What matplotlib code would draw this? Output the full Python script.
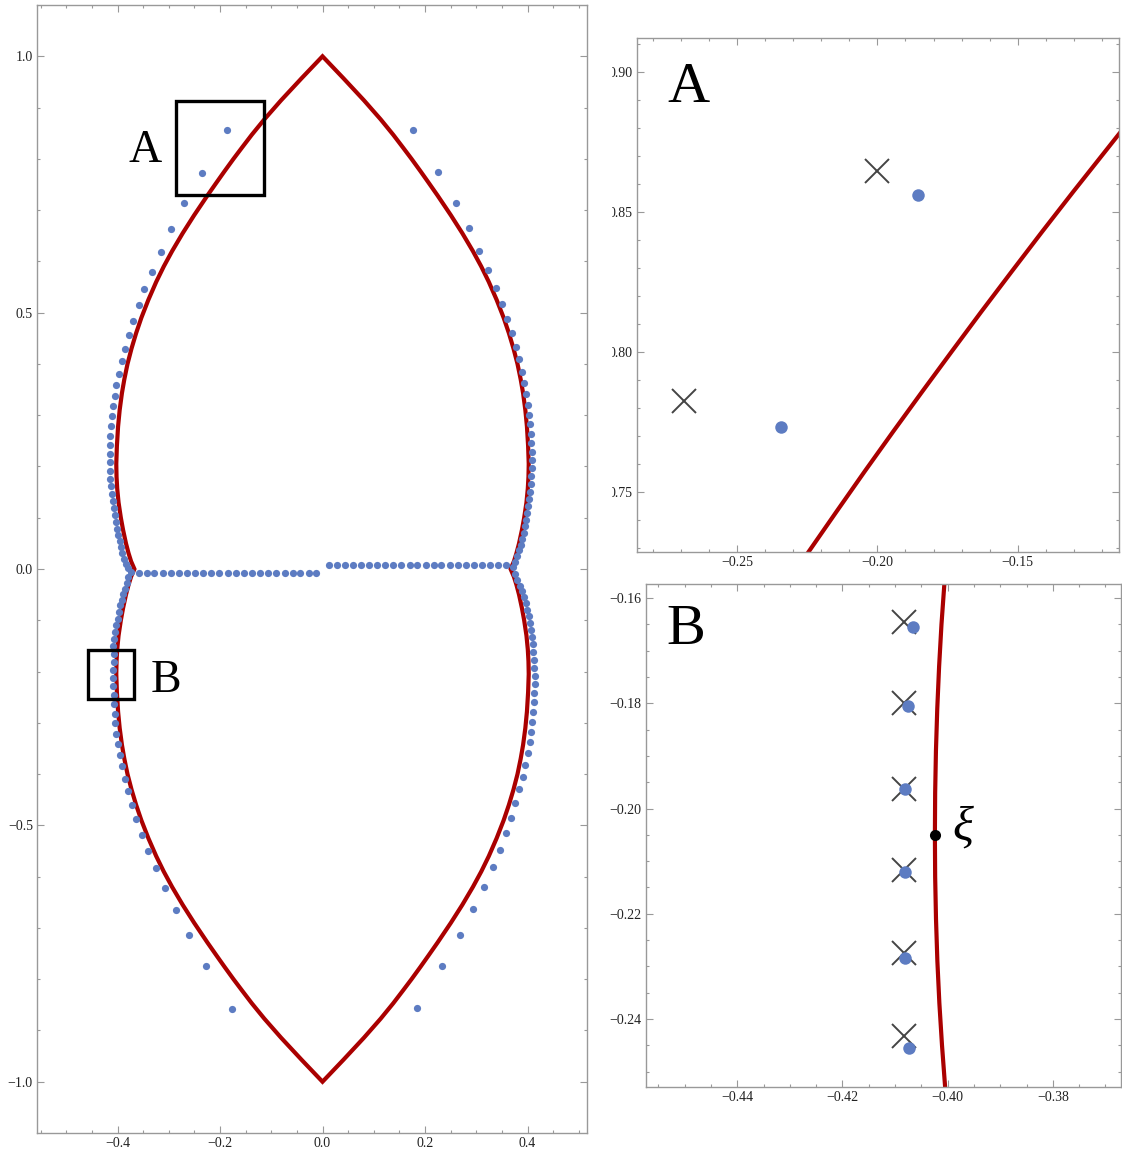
import matplotlib
matplotlib.use("Agg")
import numpy as np
import matplotlib.pyplot as plt
from matplotlib.patches import Rectangle, Polygon
from matplotlib.ticker import FixedLocator, MultipleLocator

plt.rcParams["font.family"] = ["Liberation Serif", "DejaVu Serif"]

# ---------------------------------------------------------------- data
# limiting curve, one quarter (|x|, y) from the top cusp down to the junction
prof_x = [0.000, 0.041, 0.081, 0.1135, 0.138, 0.1571, 0.1737, 0.1914, 0.2067,
          0.2245, 0.2505, 0.2728, 0.2935, 0.3098, 0.3245, 0.3398, 0.3535,
          0.3637, 0.3727, 0.3805, 0.3867, 0.3914, 0.3958, 0.3989, 0.4012,
          0.4024, 0.4019, 0.4006, 0.3980, 0.3935, 0.3892, 0.3835, 0.3785,
          0.3735, 0.3670]
prof_y = [1.000, 0.957, 0.914, 0.877, 0.847, 0.822, 0.800, 0.7756, 0.754,
          0.7286, 0.690, 0.655, 0.620, 0.590, 0.560, 0.525, 0.490, 0.460,
          0.430, 0.400, 0.370, 0.343, 0.310, 0.278, 0.240, 0.205, 0.180,
          0.157, 0.130, 0.100, 0.0765, 0.050, 0.031, 0.015, 0.000]

# zeros: upper-left branch
ul_x = [-0.1856, -0.2344, -0.270, -0.296, -0.316, -0.333, -0.348, -0.359,
        -0.369, -0.378, -0.385, -0.391, -0.397, -0.402, -0.405, -0.408,
        -0.411, -0.413, -0.414, -0.415, -0.415, -0.415, -0.415, -0.414,
        -0.413, -0.411, -0.409, -0.407, -0.405, -0.403, -0.401, -0.399,
        -0.396, -0.394, -0.391, -0.387, -0.384, -0.380]
ul_y = [0.856, 0.7731, 0.713, 0.663, 0.619, 0.580, 0.547, 0.514, 0.484,
        0.456, 0.430, 0.405, 0.381, 0.359, 0.337, 0.317, 0.298, 0.278,
        0.260, 0.242, 0.225, 0.209, 0.192, 0.176, 0.161, 0.147, 0.133,
        0.119, 0.105, 0.092, 0.079, 0.067, 0.054, 0.043, 0.031, 0.020,
        0.010, 0.002]

# zeros: lower-left branch
ll_x = [-0.374, -0.379, -0.382, -0.386, -0.389, -0.392, -0.395, -0.398,
        -0.400, -0.403, -0.405, -0.407, -0.408, -0.4065, -0.4076, -0.4081,
        -0.4081, -0.4081, -0.4074, -0.407, -0.405, -0.404, -0.402, -0.399,
        -0.396, -0.391, -0.386, -0.380, -0.372, -0.363, -0.352, -0.340,
        -0.325, -0.308, -0.286, -0.261, -0.227, -0.177]
ll_y = [-0.005, -0.016, -0.028, -0.039, -0.049, -0.060, -0.071, -0.084,
        -0.097, -0.109, -0.123, -0.136, -0.150, -0.1655, -0.1805, -0.1963,
        -0.2121, -0.2284, -0.2455, -0.264, -0.283, -0.301, -0.321, -0.341,
        -0.362, -0.385, -0.409, -0.433, -0.460, -0.487, -0.518, -0.549,
        -0.584, -0.623, -0.665, -0.714, -0.775, -0.858]

# zeros: upper-right branch
ur_x = [0.176, 0.2248, 0.260, 0.2853, 0.306, 0.3235, 0.338, 0.350, 0.360,
        0.370, 0.377, 0.3834, 0.3887, 0.393, 0.397, 0.400, 0.403, 0.405,
        0.406, 0.4074, 0.408, 0.408, 0.408, 0.4074, 0.406, 0.405, 0.4035,
        0.4016, 0.3996, 0.3977, 0.395, 0.3926, 0.390, 0.3867, 0.3834, 0.380,
        0.376, 0.3723]
ur_y = [0.857, 0.775, 0.714, 0.665, 0.621, 0.584, 0.549, 0.517, 0.488,
        0.460, 0.434, 0.409, 0.385, 0.363, 0.3405, 0.320, 0.300, 0.282,
        0.264, 0.2457, 0.2287, 0.2125, 0.197, 0.181, 0.1657, 0.1506, 0.1364,
        0.1227, 0.109, 0.096, 0.0837, 0.0712, 0.0595, 0.0478, 0.0369,
        0.0258, 0.0146, 0.0049]

# zeros: lower-right branch
lr_x = [0.3756, 0.380, 0.385, 0.3887, 0.3926, 0.3965, 0.3996, 0.4023, 0.405,
        0.4068, 0.4088, 0.410, 0.4113, 0.4127, 0.4133, 0.414, 0.414, 0.4133,
        0.4127, 0.4113, 0.4094, 0.4068, 0.4043, 0.4004, 0.3957, 0.3906,
        0.384, 0.3762, 0.3678, 0.3575, 0.3458, 0.332, 0.3145, 0.2942,
        0.2683, 0.2338, 0.185]
lr_y = [-0.0094, -0.0211, -0.0322, -0.0431, -0.0548, -0.0665, -0.0796,
        -0.0919, -0.1050, -0.1186, -0.1323, -0.1465, -0.161, -0.1766,
        -0.1922, -0.2084, -0.2246, -0.2421, -0.2597, -0.278, -0.2976, -0.317,
        -0.3378, -0.3592, -0.382, -0.4055, -0.430, -0.4568, -0.4849, -0.5147,
        -0.5473, -0.581, -0.620, -0.6636, -0.7132, -0.7742, -0.8568]

# zeros on the two horizontal rows
row_left_x = [-0.359, -0.343, -0.328, -0.312, -0.296, -0.280, -0.264, -0.248,
              -0.233, -0.217, -0.201, -0.185, -0.169, -0.153, -0.138, -0.122,
              -0.106, -0.090, -0.074, -0.058, -0.043, -0.027, -0.012]
row_left_y = -0.008
row_right_x = [0.012, 0.028, 0.044, 0.059, 0.075, 0.091, 0.107, 0.122, 0.138,
               0.154, 0.170, 0.185, 0.201, 0.217, 0.232, 0.248, 0.264, 0.280,
               0.295, 0.311, 0.327, 0.343, 0.358]
row_right_y = 0.008

# window A
a_xlim = (-0.2858, -0.114)
a_ylim = (0.7286, 0.912)
a_curve_x = [-0.2294, -0.2245, -0.2146, -0.2046, -0.1944, -0.1841, -0.1736,
             -0.1630, -0.1522, -0.1413, -0.1302, -0.1147, -0.1076]
a_curve_y = [0.7215, 0.7286, 0.7429, 0.7572, 0.7715, 0.7857, 0.8000,
             0.8143, 0.8286, 0.8429, 0.8572, 0.8768, 0.8857]
a_dots_x = [-0.1856, -0.2344]
a_dots_y = [0.856, 0.7731]
a_cross_x = [-0.200, -0.269]
a_cross_y = [0.8645, 0.7824]

# window B
b_xlim = (-0.4574, -0.3671)
b_ylim = (-0.2530, -0.1573)
b_curve_x = [-0.40030, -0.40063, -0.40118, -0.40163, -0.40198, -0.40223,
             -0.40238, -0.40243, -0.40238, -0.40222, -0.40196, -0.40158,
             -0.40108, -0.40048, -0.40010]
b_curve_y = [-0.1520, -0.1573, -0.1650, -0.1730, -0.1810, -0.1890,
             -0.1970, -0.2050, -0.2130, -0.2210, -0.2290, -0.2370,
             -0.2450, -0.2530, -0.2580]
b_dots_x = [-0.4065, -0.4076, -0.4081, -0.4081, -0.4081, -0.4074]
b_dots_y = [-0.1655, -0.1805, -0.1963, -0.2121, -0.2284, -0.2455]
b_cross_x = [-0.4083, -0.4083, -0.4083, -0.4083, -0.4083, -0.4083]
b_cross_y = [-0.1645, -0.1799, -0.1963, -0.2117, -0.2275, -0.2433]
xi_x, xi_y = -0.40243, -0.20501

# tick marks and labels
main_xticks = [-0.4, -0.2, 0.0, 0.2, 0.4]
main_xlabels = ["\u22120.4", "\u22120.2", "0.0", "0.2", "0.4"]
main_yticks = [-1.0, -0.5, 0.0, 0.5, 1.0]
main_ylabels = ["\u22121.0", "\u22120.5", "0.0", "0.5", "1.0"]
a_xticks = [-0.25, -0.20, -0.15]
a_xlabels = ["\u22120.25", "\u22120.20", "\u22120.15"]
a_yticks = [0.75, 0.80, 0.85, 0.90]
a_ylabels = ["0.75", "0.80", "0.85", "0.90"]
b_xticks = [-0.44, -0.42, -0.40, -0.38]
b_xlabels = ["\u22120.44", "\u22120.42", "\u22120.40", "\u22120.38"]
b_yticks = [-0.24, -0.22, -0.20, -0.18, -0.16]
b_ylabels = ["\u22120.24", "\u22120.22", "\u22120.20", "\u22120.18", "\u22120.16"]

# ---------------------------------------------------------------- style
RED = "#aa0000"
BLUE = "#5d7cc2"
CROSS = "#444444"
FRAME = "#999999"
TXT = "#222222"

W, H = 1122, 1151
fig = plt.figure(figsize=(W / 100, H / 100), dpi=100)


def axes_px(x0, y0, x1, y1):
    return fig.add_axes([x0 / W, 1 - y1 / H, (x1 - x0) / W, (y1 - y0) / H])


def style(ax, xt, xl, yt, yl, xminor, yminor):
    ax.xaxis.set_major_locator(FixedLocator(xt))
    ax.set_xticklabels(xl)
    ax.yaxis.set_major_locator(FixedLocator(yt))
    ax.set_yticklabels(yl)
    ax.xaxis.set_minor_locator(MultipleLocator(xminor))
    ax.yaxis.set_minor_locator(MultipleLocator(yminor))
    ax.tick_params(which="both", direction="in", top=True, right=True,
                   color=FRAME, width=0.8, labelsize=10, labelcolor=TXT)
    ax.tick_params(which="major", length=5, pad=3)
    ax.tick_params(which="minor", length=2.5)
    for s in ax.spines.values():
        s.set_color(FRAME)
        s.set_linewidth(1.0)


# ---------------- main panel
ax = axes_px(37, 5.3, 587, 1132.7)
ax.set_xlim(-0.5571, 0.5161)
ax.set_ylim(-1.0994, 1.0995)

px = np.array(prof_x)
py = np.array(prof_y)
upper_x = np.concatenate([-px[::-1], px[1:]])
upper_y = np.concatenate([py[::-1], py[1:]])
lower_x = np.concatenate([px[::-1], -px[1:]])
lower_y = np.concatenate([-py[::-1], -py[1:]])
loop = np.column_stack([np.concatenate([upper_x, lower_x[1:-1]]),
                        np.concatenate([upper_y, lower_y[1:-1]])])
ax.add_patch(Polygon(loop, closed=True, fill=False, ec=RED, lw=3.0,
                     joinstyle="miter", zorder=2))

dot_kw = dict(ls="none", marker="o", ms=5.2, color=BLUE, mec="none", zorder=3)
for xs, ys in [(ul_x, ul_y), (ll_x, ll_y), (ur_x, ur_y), (lr_x, lr_y)]:
    ax.plot(xs, ys, **dot_kw)
ax.plot(row_left_x, [row_left_y] * len(row_left_x), **dot_kw)
ax.plot(row_right_x, [row_right_y] * len(row_right_x), **dot_kw)

for (x0, x1), (y0, y1) in [(a_xlim, a_ylim), (b_xlim, b_ylim)]:
    ax.add_patch(Rectangle((x0, y0), x1 - x0, y1 - y0, fill=False,
                           ec="black", lw=2.4, joinstyle="miter", zorder=4))
ax.text(-0.3463, 0.7945, "A", fontsize=33, ha="center", va="baseline")
ax.text(-0.3054, -0.239, "B", fontsize=33, ha="center", va="baseline")
style(ax, main_xticks, main_xlabels, main_yticks, main_ylabels, 0.05, 0.1)

# ---------------- window A
axa = axes_px(636.7, 38.3, 1118.7, 551.7)
axa.set_xlim(*a_xlim)
axa.set_ylim(*a_ylim)
axa.plot(a_curve_x, a_curve_y, color=RED, lw=3.0, zorder=2)
axa.plot(a_cross_x, a_cross_y, ls="none", marker="x", ms=17, mew=1.4,
         color=CROSS, zorder=3)
axa.plot(a_dots_x, a_dots_y, ls="none", marker="o", ms=9, color=BLUE,
         mec="none", zorder=4)
axa.text(-0.2674, 0.8893, "A", fontsize=42, ha="center", va="baseline")
style(axa, a_xticks, a_xlabels, a_yticks, a_ylabels, 0.01, 0.01)

# ---------------- window B
axb = axes_px(645.8, 584.0, 1120.7, 1087.3)
axb.set_xlim(*b_xlim)
axb.set_ylim(*b_ylim)
axb.plot(b_curve_x, b_curve_y, color=RED, lw=3.0, zorder=2)
axb.plot(b_cross_x, b_cross_y, ls="none", marker="x", ms=17, mew=1.4,
         color=CROSS, zorder=3)
axb.plot(b_dots_x, b_dots_y, ls="none", marker="o", ms=9, color=BLUE,
         mec="none", zorder=4)
axb.plot([xi_x], [xi_y], ls="none", marker="o", ms=8, color="black",
         mec="none", zorder=5)
axb.text(-0.3972, -0.2058, "\u03be", fontsize=35, style="italic",
         ha="center", va="baseline")
axb.text(-0.4498, -0.1687, "B", fontsize=42, ha="center", va="baseline")
style(axb, b_xticks, b_xlabels, b_yticks, b_ylabels, 0.005, 0.005)

# the A window's y labels are trimmed on their left side
fig.add_artist(Rectangle((590 / W, 1 - 565 / H), 22 / W, 535 / H,
                         transform=fig.transFigure, fc="white", ec="none",
                         zorder=10))

fig.savefig("out.png", dpi=100)
